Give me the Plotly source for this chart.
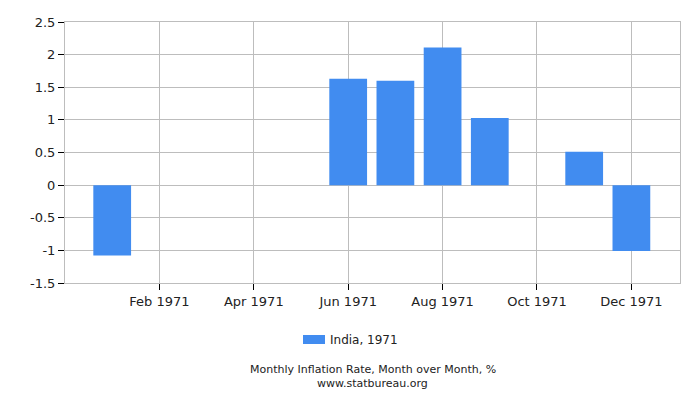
import plotly.graph_objects as go

months = ["Jan 1971", "Feb 1971", "Mar 1971", "Apr 1971", "May 1971", "Jun 1971",
          "Jul 1971", "Aug 1971", "Sep 1971", "Oct 1971", "Nov 1971", "Dec 1971"]
inflation = [-1.08, 0, 0, 0, 0, 1.63, 1.60, 2.11, 1.03, 0, 0.51, -1.01]
shown_ticks = ["Feb 1971", "Apr 1971", "Jun 1971", "Aug 1971", "Oct 1971", "Dec 1971"]
y_ticks = [2.5, 2, 1.5, 1, 0.5, 0, -0.5, -1, -1.5]
y_labels = ["2.5", "2", "1.5", "1", "0.5", "0", "-0.5", "-1", "-1.5"]
series_name = "India, 1971"
bar_color = "#418cf0"

fig = go.Figure(
    data=[go.Bar(x=months, y=inflation, name=series_name, showlegend=False,
                 marker=dict(color=bar_color, line=dict(width=0)), width=0.8)]
)

# the page has an 8px body margin, so margins are shifted by that much
fig.update_layout(
    width=700, height=400,
    margin=dict(l=57, r=28, t=14, b=125),
    paper_bgcolor="white", plot_bgcolor="white",
    font=dict(family="DejaVu Sans", size=13, color="#222222"),
    shapes=[
        # legend swatch, drawn by hand to get the wide rectangle
        dict(type="rect", xref="paper", yref="paper",
             x0=0.387, x1=0.4228, y0=-0.2337, y1=-0.1992,
             fillcolor=bar_color, line=dict(width=0))
    ],
    annotations=[
        dict(text=series_name, xref="paper", yref="paper", x=0.427, y=-0.218,
             xanchor="left", yanchor="middle", showarrow=False,
             font=dict(size=12, color="#222222")),
        dict(text="Monthly Inflation Rate, Month over Month, %",
             xref="paper", yref="paper", x=0.5, y=-0.333, yanchor="middle",
             showarrow=False, font=dict(size=11, color="#222222")),
        dict(text="www.statbureau.org",
             xref="paper", yref="paper", x=0.5, y=-0.385, yanchor="middle",
             showarrow=False, font=dict(size=11, color="#222222")),
    ],
)

fig.update_xaxes(
    type="category", categoryorder="array", categoryarray=months,
    range=[-1, 12.03], tickvals=shown_ticks, ticktext=shown_ticks,
    showgrid=True, gridcolor="#bdbdbd", gridwidth=1,
    showline=True, linecolor="#bdbdbd", linewidth=1, mirror=True,
    ticks="outside", ticklen=6, tickcolor="black",
    zeroline=False, automargin=False,
)
fig.update_yaxes(
    range=[-1.5, 2.5], tickvals=y_ticks, ticktext=y_labels,
    showgrid=True, gridcolor="#bdbdbd", gridwidth=1,
    showline=True, linecolor="#bdbdbd", linewidth=1, mirror=True,
    ticks="outside", ticklen=6, tickcolor="black",
    zeroline=True, zerolinecolor="#bdbdbd", zerolinewidth=1,
    automargin=False,
)

fig.write_html("out.html")
